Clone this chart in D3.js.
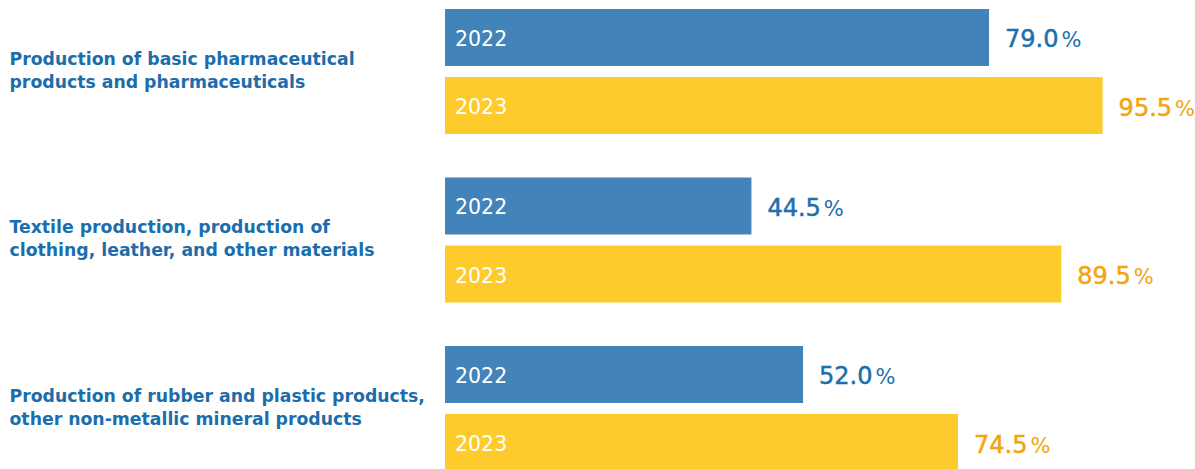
<!DOCTYPE html>
<html>
<head>
<meta charset="utf-8">
<script src="https://cdn.jsdelivr.net/npm/d3@7"></script>
<style>
  html, body { margin: 0; padding: 0; background: #fff; }
  svg { display: block; }
</style>
</head>
<body>
<script>
const categories = [
  "Production of basic pharmaceutical\nproducts and pharmaceuticals",
  "Textile production, production of\nclothing, leather, and other materials",
  "Production of rubber and plastic products,\nother non-metallic mineral products"
];
const years = ["2022", "2023"];
const values2022 = [79.0, 44.5, 52.0];
const values2023 = [95.5, 89.5, 74.5];

const W = 1195, H = 469;
const barColors = { "2022": "#4283b9", "2023": "#fecb2c" };
const valueColors = { "2022": "#1d6fad", "2023": "#f2a50c" };

const data = categories.map((c, i) => ({
  category: c,
  bars: [
    { year: years[0], value: values2022[i] },
    { year: years[1], value: values2023[i] }
  ]
}));

const svg = d3.select("body").append("svg")
  .attr("width", W).attr("height", H);

const x = d3.scaleLinear().domain([0, 100]).range([445, 1133.6]);
const y0 = d3.scaleBand().domain(categories).range([9, 514.5]).padding(0);
const y1 = d3.scaleBand().domain(years).range([0, 125]).paddingInner(0.162).paddingOuter(0);

const groups = svg.selectAll("g.group").data(data).join("g")
  .attr("class", "group")
  .attr("transform", d => `translate(0,${y0(d.category)})`);

// category labels
groups.append("text")
  .attr("fill", "#1b6dac")
  .attr("font-family", "'DejaVu Sans', sans-serif")
  .attr("font-weight", "bold")
  .attr("font-size", 17.3)
  .each(function(d) {
    const lines = d.category.split("\n");
    const cy = 125 / 2 - 2;
    const lh = 23;
    const t = d3.select(this);
    lines.forEach((ln, k) => {
      t.append("tspan")
        .attr("x", 9.5)
        .attr("y", cy + (k - (lines.length - 1) / 2) * lh + 6.5)
        .text(ln);
    });
  });

const bars = groups.selectAll("g.bar").data(d => d.bars).join("g").attr("class", "bar");

bars.append("rect")
  .attr("x", x(0))
  .attr("y", d => y1(d.year))
  .attr("width", d => x(d.value) - x(0))
  .attr("height", y1.bandwidth())
  .attr("fill", d => barColors[d.year]);

bars.append("text")
  .attr("x", x(0) + 10)
  .attr("y", d => y1(d.year) + y1.bandwidth() / 2 + 8.5)
  .attr("fill", "#fff")
  .attr("font-family", "'DejaVu Sans', sans-serif")
  .attr("font-size", 20.5)
  .text(d => d.year);

const vt = bars.append("text")
  .attr("x", d => x(d.value) + 16)
  .attr("y", d => y1(d.year) + y1.bandwidth() / 2 + 10)
  .attr("fill", d => valueColors[d.year])
  .attr("font-family", "'DejaVu Sans', sans-serif")
  .attr("font-size", 24)
  .attr("stroke", d => valueColors[d.year])
  .attr("stroke-width", 0.5);
vt.append("tspan").text(d => d3.format(".1f")(d.value));
vt.append("tspan").attr("dx", 3).attr("font-size", 21).attr("stroke-width", 0).text("%");
</script>
</body>
</html>
